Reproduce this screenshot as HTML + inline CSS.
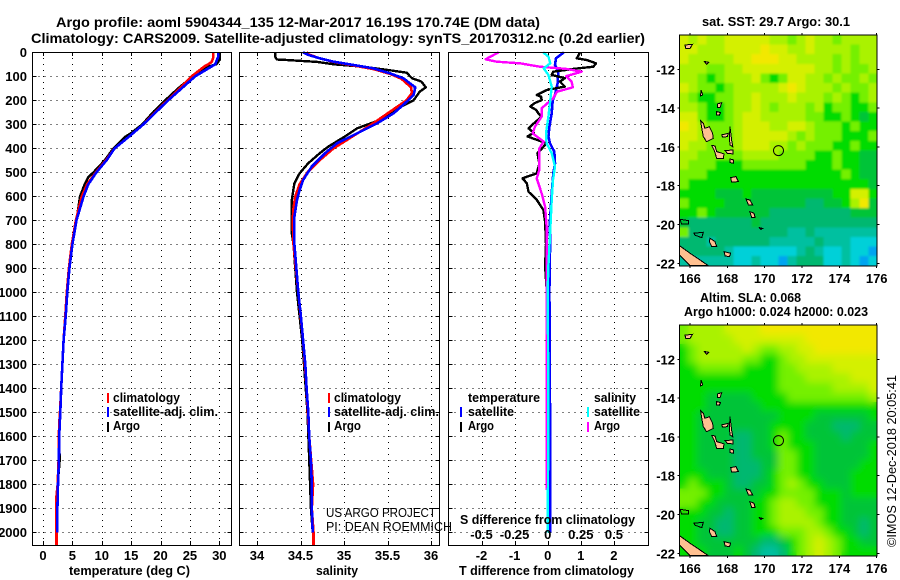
<!DOCTYPE html>
<html><head><meta charset="utf-8"><title>Argo profile</title>
<style>
html,body{margin:0;padding:0;background:#fff;width:900px;height:580px;overflow:hidden}
svg{display:block}
text{font-family:"Liberation Sans",sans-serif;font-weight:bold;fill:#000;font-size:13px}
.t{font-size:14px}
</style></head><body>
<svg id="chart" xmlns="http://www.w3.org/2000/svg" width="900" height="580" viewBox="0 0 900 580">
<defs>
<filter id="smooth" x="-5%" y="-5%" width="110%" height="110%"><feGaussianBlur stdDeviation="4"/></filter>
<filter id="soft" x="-5%" y="-5%" width="110%" height="110%"><feGaussianBlur stdDeviation="1"/></filter>
<clipPath id="map-clip-top"><rect x="679.3" y="35" width="197.6" height="230.9"/></clipPath>
<clipPath id="map-clip-bottom"><rect x="679.3" y="325" width="197.6" height="230.9"/></clipPath>
</defs>
<rect x="0" y="0" width="900" height="580" fill="#fff"/>
<g id="layer"></g>
<text class="t" x="56" y="27" textLength="484" lengthAdjust="spacingAndGlyphs">Argo profile: aoml 5904344_135 12-Mar-2017 16.19S 170.74E (DM data)</text>
<text class="t" x="31" y="43" textLength="614" lengthAdjust="spacingAndGlyphs">Climatology: CARS2009. Satellite-adjusted climatology: synTS_20170312.nc (0.2d earlier)</text>
<text x="69" y="575" textLength="121" lengthAdjust="spacingAndGlyphs">temperature (deg C)</text>
<text x="316" y="575" textLength="42" lengthAdjust="spacingAndGlyphs">salinity</text>
<text x="459" y="575" textLength="175" lengthAdjust="spacingAndGlyphs">T difference from climatology</text>
<text x="460" y="524" textLength="175" lengthAdjust="spacingAndGlyphs">S difference from climatology</text>
<text x="113" y="402" textLength="67" lengthAdjust="spacingAndGlyphs">climatology</text>
<text x="113" y="416" textLength="105" lengthAdjust="spacingAndGlyphs">satellite-adj. clim.</text>
<text x="113" y="430" textLength="27" lengthAdjust="spacingAndGlyphs">Argo</text>
<text x="334" y="402" textLength="67" lengthAdjust="spacingAndGlyphs">climatology</text>
<text x="334" y="416" textLength="105" lengthAdjust="spacingAndGlyphs">satellite-adj. clim.</text>
<text x="334" y="430" textLength="27" lengthAdjust="spacingAndGlyphs">Argo</text>
<text x="468" y="402" textLength="72" lengthAdjust="spacingAndGlyphs">temperature</text>
<text x="468" y="416" textLength="46" lengthAdjust="spacingAndGlyphs">satellite</text>
<text x="468" y="430" textLength="26" lengthAdjust="spacingAndGlyphs">Argo</text>
<text x="594" y="402" textLength="42" lengthAdjust="spacingAndGlyphs">salinity</text>
<text x="594" y="416" textLength="46" lengthAdjust="spacingAndGlyphs">satellite</text>
<text x="594" y="430" textLength="26" lengthAdjust="spacingAndGlyphs">Argo</text>
<text x="326" y="517" textLength="110" lengthAdjust="spacingAndGlyphs" style="font-weight:normal">US ARGO PROJECT</text>
<text x="326" y="531" textLength="126" lengthAdjust="spacingAndGlyphs" style="font-weight:normal">PI: DEAN ROEMMICH</text>
<text x="702" y="26" textLength="148" lengthAdjust="spacingAndGlyphs">sat. SST: 29.7 Argo: 30.1</text>
<text x="700" y="302" textLength="101" lengthAdjust="spacingAndGlyphs">Altim. SLA: 0.068</text>
<text x="684" y="316" textLength="184" lengthAdjust="spacingAndGlyphs">Argo h1000: 0.024 h2000: 0.023</text>
<text transform="translate(896,547) rotate(-90)" x="0" y="0" textLength="172" lengthAdjust="spacingAndGlyphs" style="font-weight:normal">©IMOS 12-Dec-2018 20:05:41</text>
</svg>
<script>
// ---------- profile data ----------
const depthTicks = [0,100,200,300,400,500,600,700,800,900,1000,1100,1200,1300,1400,1500,1600,1700,1800,1900,2000];
const tempTicks = [0,5,10,15,20,25,30];
const salTicks = [34,34.5,35,35.5,36];
const salTickLabels = ['34','34.5','35','35.5','36'];
const tDiffTicks = [-2,-1,0,1,2];
const sDiffTicks = [-0.5,-0.25,0,0.25,0.5];
const sDiffTickLabels = ['-0.5','-0.25','0','0.25','0.5'];

const tempClimDepth = [0,20,40,50,60,100,150,200,250,300,350,400,450,500,550,600,650,700,800,900,1000,1100,1200,1300,1400,1500,1550,1600,1700,1800,1850,1900,2000,2054];
const tempClimValue = [29,29,28.7,28.1,27.4,25.3,23.3,21.2,19.1,17.1,14.7,12.2,10.7,9,7.5,6.6,6.1,5.6,4.9,4.4,4.05,3.8,3.5,3.3,3.1,2.9,2.75,2.7,2.65,2.5,2.3,2.3,2.3,2.3];
const tempSatDepth = [0,20,50,100,150,200,250,300,350,400,450,500,550,600,650,700,800,900,1000,1100,1200,1300,1400,1500,1600,1700,1800,1900,2000];
const tempSatValue = [29.8,29.8,29.3,25.9,23.6,21.3,19.2,17.1,14.7,12.2,10.8,9.1,7.7,6.9,6.3,5.7,5,4.5,4.14,3.86,3.5,3.3,3.1,2.95,2.75,2.7,2.55,2.45,2.45];
const tempArgoDepth = [0,30,50,60,80,100,150,200,235,245,300,340,350,400,450,500,520,550,600,700,800,900,1000,1200,1400,1600,1700,1800,1900,2000];
const tempArgoValue = [30.1,30.1,29.5,28.1,26.7,25.5,23,20.8,19.4,18.9,16.9,14.8,14.1,12,10.5,8.6,7.7,7.1,6.3,5.7,5,4.5,4.1,3.5,3.1,2.75,2.85,2.5,2.35,2.35];

const salClimDepth = [0,10,25,40,55,70,90,110,146,170,200,250,300,350,400,450,500,550,600,650,700,800,1000,1200,1400,1600,1800,1900,2000,2054];
const salClimValue = [34.57,34.6,34.72,34.88,35.11,35.34,35.53,35.66,35.77,35.78,35.72,35.52,35.32,35.1,34.88,34.72,34.58,34.49,34.44,34.42,34.41,34.42,34.475,34.53,34.57,34.6,34.645,34.63,34.65,34.65];
const salSatDepth = [0,11,25,39,53,67,88,108,146,178,213,254,296,338,379,421,476,532,574,615,685,800,1000,1100,1200,1300,1400,1500,1600,1700,1800,1900,2000];
const salSatValue = [34.53,34.59,34.72,34.88,35.11,35.34,35.53,35.68,35.82,35.8,35.7,35.57,35.38,35.15,34.92,34.78,34.63,34.53,34.49,34.46,34.43,34.43,34.475,34.505,34.53,34.555,34.57,34.59,34.6,34.62,34.63,34.63,34.64];
const salArgoDepth = [0,20,30,32,40,50,60,75,85,108,122,146,164,200,226,254,282,317,351,393,421,462,504,546,615,754,800,1000,1200,1500,1800,1900,2000];
const salArgoValue = [34.21,34.21,34.23,34.34,34.69,34.88,35.22,35.53,35.72,35.78,35.89,35.94,35.87,35.8,35.66,35.53,35.41,35.15,35.01,34.82,34.72,34.59,34.49,34.43,34.4,34.4,34.42,34.46,34.52,34.58,34.61,34.62,34.64];

const diffTSatDepth = [0,25,53,81,129,178,199,254,310,351,379,414,463,504,588,699,824,990,1500,2000];
const diffTSatValue = [0.49,0.25,0.22,0.32,0.3,0.22,0.15,0.12,0.05,0.02,0.07,0.2,0.22,0.17,0.12,0.07,0.07,0.05,0.07,0.07];
const diffTArgoDepth = [0,25,32,46,60,69,81,94,108,122,143,157,178,185,199,212,226,240,254,268,282,300,317,335,351,379,421,463,504,525,546,581,615,657,706,800,890,990,1200,1500];
const diffTArgoValue = [0.98,0.88,1.18,1.46,1.38,0.78,0.17,0.12,0.52,0.37,0.52,-0.03,-0.33,-0.2,-0.18,-0.4,-0.53,-0.35,-0.28,-0.2,-0.3,-0.45,-0.58,-0.42,-0.61,-0.03,-0.31,-0.25,-0.33,-0.76,-0.63,-0.58,-0.33,-0.13,-0.08,-0.05,-0.08,-0.03,0,0];
const diffSSatDepth = [0,18,46,67,94,143,199,268,338,379,421,476,532,615,754,890,990,1500,2000];
const diffSSatValue = [-0.035,0.005,0.02,-0.03,0.005,0.03,0.02,0.005,-0.013,-0.008,0.03,0.055,0.04,0.03,0.018,0.005,0,0.005,0];
const diffSArgoDepth = [0,29,39,46,60,69,81,99,122,146,164,192,233,268,310,338,372,400,448,490,525,588,643,725,808,1823];
const diffSArgoValue = [-0.37,-0.47,-0.385,-0.21,-0.06,0.14,0.257,0.14,0.18,0.19,0.07,0.04,-0.045,-0.045,-0.096,-0.113,-0.03,-0.063,-0.063,-0.063,-0.083,-0.045,-0.02,-0.008,-0.008,-0.008];

// ---------- map data (colour level per coarse cell, top row = north) ----------
const lonTicks = [166,168,170,172,174,176];
const latTicks = [-12,-14,-16,-18,-20,-22];
const levelColors = ['#00a4f0','#00d0d8','#00c0a0','#00b870','#00c438','#00dc00','#74f000','#aaf200','#d4f000','#f2e800'];
const sstLevels = [
[8,7,8,7,7,8,8,8,8,8,7,7,6,7,8,7,7,6,7,7,7,7],
[8,8,7,7,7,8,8,8,8,9,8,8,7,7,8,7,7,7,7,6,7,7],
[8,7,7,7,7,7,8,8,9,9,9,8,8,7,7,7,7,6,7,6,7,7],
[7,7,7,6,6,7,7,8,8,8,8,8,8,8,8,7,7,6,7,6,6,7],
[7,7,6,5,6,7,7,7,8,6,5,6,8,8,7,7,6,7,6,6,7,6],
[8,7,6,6,5,6,7,7,7,7,7,8,9,8,7,7,7,6,7,6,6,7],
[7,6,5,5,6,6,7,7,8,7,7,7,8,7,7,7,6,7,6,5,6,7],
[7,7,6,5,5,6,7,7,8,7,6,7,7,7,6,7,5,6,6,5,5,6],
[8,8,6,5,5,6,7,8,8,7,7,7,7,7,6,6,5,5,6,5,4,5],
[9,8,7,6,6,6,7,8,8,8,7,7,8,8,7,6,6,6,5,6,5,5],
[8,8,7,6,6,6,7,8,8,8,8,8,7,6,7,6,6,6,5,5,5,6],
[8,7,7,6,6,6,7,8,8,8,7,7,6,7,6,6,6,5,5,6,5,5],
[7,7,6,6,6,6,6,7,7,7,7,6,6,6,6,5,5,6,5,5,4,4],
[7,6,6,6,5,5,5,6,6,6,6,6,6,6,5,5,5,6,5,5,4,4],
[6,6,6,5,5,5,5,5,5,5,5,5,5,5,5,5,5,5,6,5,4,4],
[6,5,5,5,5,5,5,5,5,5,5,5,5,5,5,5,5,5,5,5,5,4],
[5,5,5,5,4,4,4,5,4,4,4,4,4,4,4,4,4,5,5,8,8,5],
[6,5,5,5,5,4,4,4,4,4,4,4,4,4,3,3,4,4,5,7,9,4],
[5,5,6,5,4,4,4,4,4,4,3,3,3,3,3,3,3,3,3,4,4,4],
[4,3,3,3,3,3,3,3,4,3,3,3,3,3,3,3,3,3,3,3,3,3],
[6,3,3,3,3,3,3,3,3,3,3,3,2,2,3,2,2,2,2,2,2,2],
[3,3,3,2,3,3,3,3,3,3,2,2,2,2,2,3,2,2,2,1,1,1],
[3,3,3,3,3,2,1,1,1,1,1,1,1,2,3,2,1,1,2,1,1,0],
[2,2,2,2,2,2,1,1,2,1,1,0,2,3,3,3,1,1,2,1,0,1]
];
const slaLevels = [
[6,7,7,7,7,8,8,8,8,9,9,9,9,9,9,9,9,9,9,9,9,9],
[6,7,7,7,7,7,8,8,8,8,8,8,8,8,9,9,9,9,9,9,9,9],
[5,6,7,7,7,7,7,8,7,6,6,7,7,8,8,9,9,9,9,9,9,9],
[5,6,7,7,7,7,7,6,6,5,5,6,7,7,8,8,8,8,8,8,8,8],
[5,5,6,6,6,6,6,5,5,5,5,6,6,7,7,7,7,8,8,8,8,8],
[5,5,5,5,5,5,5,5,5,5,5,6,6,6,7,7,7,7,7,8,8,8],
[5,5,5,5,5,5,5,5,5,5,5,6,6,6,6,6,6,7,7,7,7,8],
[5,5,5,4,4,4,4,4,5,5,5,5,6,6,6,6,6,6,6,6,6,7],
[5,5,5,4,4,4,4,4,4,5,5,5,5,5,5,5,5,5,5,5,5,5],
[5,5,4,4,4,4,4,4,4,4,4,5,5,5,5,4,4,4,4,4,4,5],
[5,5,4,4,4,4,4,4,4,4,5,5,5,5,4,4,4,3,3,3,4,4],
[5,5,4,4,4,4,3,3,4,4,5,6,5,5,4,4,4,4,3,4,4,4],
[5,5,4,4,4,4,3,3,4,4,5,6,5,5,5,4,4,4,4,4,4,5],
[5,5,4,4,4,4,3,3,4,4,4,6,6,5,5,4,4,4,4,4,4,5],
[5,5,4,4,4,4,3,3,3,4,4,6,6,5,5,4,4,4,4,4,5,5],
[5,5,5,4,4,4,3,3,3,4,5,6,6,5,5,4,4,4,4,5,5,5],
[5,6,5,5,5,4,3,3,4,4,5,6,7,6,5,5,4,4,4,5,5,5],
[6,6,6,5,5,4,4,4,4,5,5,6,6,6,6,5,5,5,4,5,5,5],
[6,6,5,5,4,4,4,4,5,5,6,7,7,6,6,5,5,5,4,4,4,4],
[5,5,5,4,4,3,4,4,5,5,6,7,7,7,6,6,5,5,4,4,4,4],
[5,5,4,4,3,3,4,4,5,5,6,7,7,7,7,6,5,5,4,4,3,4],
[5,5,4,4,3,3,4,4,5,5,5,6,6,6,7,7,6,5,5,4,3,4],
[5,5,4,4,4,4,4,4,4,3,3,4,5,6,7,8,7,6,5,5,4,4],
[5,5,5,4,4,4,5,4,3,2,2,3,5,6,7,8,7,6,5,5,5,5]
];
// lon,lat outline pairs of the coastlines
const islands = [
[166.57,-14.65,166.71,-14.78,166.8,-15.04,167.04,-14.96,167.21,-15.3,167.25,-15.56,166.89,-15.73,166.71,-15.47,166.63,-15.04],
[167.16,-15.93,167.34,-15.95,167.43,-16.24,167.82,-16.36,167.79,-16.59,167.43,-16.59,167.3,-16.19],
[168.18,-17.58,168.46,-17.53,168.59,-17.79,168.23,-17.82],
[169,-18.68,169.21,-18.74,169.36,-18.99,169.13,-18.99],
[169.21,-19.34,169.43,-19.42,169.48,-19.63,169.3,-19.63],
[165.43,-21.09,166,-21.48,166.98,-22.12,166,-22.12,165.43,-21.57],
[167.07,-20.71,167.34,-20.88,167.43,-21.14,167.16,-21.14,167.04,-20.88],
[167.82,-21.4,168.18,-21.48,168.11,-21.66,167.88,-21.62],
[167.7,-15.38,168.05,-15.3,168,-15.47,167.75,-15.5],
[168.14,-14.96,168.23,-15.64,168.29,-15.99,168.14,-15.9,168.11,-15.55],
[167.88,-16.19,168.29,-16.16,168.29,-16.36,168,-16.33],
[168.14,-16.62,168.32,-16.67,168.32,-16.84,168.14,-16.81],
[167.43,-14.18,167.64,-14.23,167.57,-14.37,167.43,-14.35],
[167.46,-13.79,167.7,-13.72,167.61,-13.96,167.46,-13.96],
[165.73,-10.75,166.14,-10.71,166,-10.92,165.77,-10.92],
[166.77,-11.6,167,-11.64,166.89,-11.74],
[166.59,-13.07,166.68,-13.32,166.57,-13.37],
[169.71,-20.16,169.89,-20.2,169.79,-20.26]
];
const islandOutlines = [
[165.46,-19.73,165.91,-19.8,165.91,-19.97,165.55,-19.97],
[166.21,-20.45,166.71,-20.4,166.63,-20.68,166.27,-20.55]
];
const argoLon = 170.74;
const argoLat = -16.19;

// ---------- drawing ----------
const NS = 'http://www.w3.org/2000/svg';
const layer = document.getElementById('layer');
function mk(tag, attrs, name, parent) {
  const el = document.createElementNS(NS, tag);
  for (const k in attrs) el.setAttribute(k, attrs[k]);
  
  
  (parent || layer).appendChild(el);
  return el;
}
function label(x, y, str, anchor, name) {
  const el = mk('text', {x: x, y: y, 'text-anchor': anchor}, name);
  el.textContent = str;
  return el;
}
function hline(x1, x2, y, dash, name) {
  const a = {x1: x1, x2: x2, y1: y, y2: y, stroke: '#000', 'stroke-width': 1, 'shape-rendering': 'crispEdges'};
  if (dash) a['stroke-dasharray'] = dash;
  mk('line', a, name);
}
function vline(x, y1, y2, dash, name) {
  const a = {x1: x, x2: x, y1: y1, y2: y2, stroke: '#000', 'stroke-width': 1, 'shape-rendering': 'crispEdges'};
  if (dash) a['stroke-dasharray'] = dash;
  mk('line', a, name);
}
const plotTop = 52, plotBottom = 545;
const yDepth = d => 52.3 + d * 0.24;
const xTemp = v => 43 + v * 5.877;
const xSal = v => 257 + (v - 34) * 87;
const xTDiff = v => 547.7 + v * 33.1;
const xSDiff = v => 547.7 + v * 132.4;

function series(xf, depths, values, color, width, name) {
  const pts = depths.map((d, i) => xf(values[i]).toFixed(1) + ',' + yDepth(d).toFixed(1)).join(' ');
  mk('polyline', {points: pts, fill: 'none', stroke: color, 'stroke-width': width, 'shape-rendering': 'crispEdges', 'stroke-linejoin': 'round'}, name);
}
function panel(left, right, ticks, xf, prefix) {
  depthTicks.forEach(d => {
    const y = Math.round(yDepth(d)) + 0.5;
    hline(left, right, y, '1 5', prefix + '-depth-gridline');
    hline(left, left + 4, y, null, prefix + '-left-tick');
    hline(right - 4, right, y, null, prefix + '-right-tick');
  });
  ticks.forEach(t => {
    const x = Math.round(xf(t)) + 0.5;
    vline(x, plotTop, plotBottom, '1 5', prefix + '-x-gridline');
    vline(x, plotTop, plotTop + 4, null, prefix + '-top-tick');
    vline(x, plotBottom - 4, plotBottom, null, prefix + '-bottom-tick');
  });
}
function frame(left, right, prefix) {
  mk('rect', {x: left, y: plotTop + 0.5, width: right - left, height: plotBottom - plotTop, fill: 'none', stroke: '#000', 'stroke-width': 1, 'shape-rendering': 'crispEdges'}, prefix + '-frame');
}
const p1 = [32.5, 231.5], p2 = [239.5, 439.5], p3 = [448.5, 648.5];
panel(p1[0], p1[1], tempTicks, xTemp, 'temperature');
panel(p2[0], p2[1], salTicks, xSal, 'salinity');
panel(p3[0], p3[1], tDiffTicks, xTDiff, 'difference');

series(xTemp, tempArgoDepth, tempArgoValue, '#000', 2.4, 'temperature-argo-line');
series(xTemp, tempClimDepth, tempClimValue, '#f00', 2.6, 'temperature-climatology-line');
series(xTemp, tempSatDepth, tempSatValue, '#00f', 2.6, 'temperature-satellite-line');
series(xSal, salArgoDepth, salArgoValue, '#000', 2.4, 'salinity-argo-line');
series(xSal, salClimDepth, salClimValue, '#f00', 2.6, 'salinity-climatology-line');
series(xSal, salSatDepth, salSatValue, '#00f', 2.6, 'salinity-satellite-line');
series(xTDiff, diffTSatDepth, diffTSatValue, '#00f', 2.6, 'difference-t-satellite-line');
series(xTDiff, diffTArgoDepth, diffTArgoValue, '#000', 2.4, 'difference-t-argo-line');
series(xSDiff, diffSArgoDepth, diffSArgoValue, '#f0f', 2.4, 'difference-s-argo-line');
series(xSDiff, diffSSatDepth, diffSSatValue, '#0ff', 2.4, 'difference-s-satellite-line');

frame(p1[0], p1[1], 'temperature');
frame(p2[0], p2[1], 'salinity');
frame(p3[0], p3[1], 'difference');

depthTicks.forEach(d => label(27, yDepth(d) + 4.5, String(d), 'end', 'depth-tick-label'));
tempTicks.forEach(t => label(xTemp(t), 560, String(t), 'middle', 'temperature-tick-label'));
salTicks.forEach((t, i) => label(xSal(t), 560, salTickLabels[i], 'middle', 'salinity-tick-label'));
tDiffTicks.forEach(t => label(xTDiff(t), 560, String(t), 'middle', 't-difference-tick-label'));
sDiffTicks.forEach((t, i) => label(xSDiff(t), 539, sDiffTickLabels[i], 'middle', 's-difference-tick-label'));

// legend swatches
function swatch(x, y, color, name) {
  mk('rect', {x: x, y: y, width: 2, height: 10, fill: color, 'shape-rendering': 'crispEdges'}, name);
}
swatch(107, 393, '#f00', 'legend-swatch-climatology');
swatch(107, 407, '#00f', 'legend-swatch-satellite');
swatch(107, 422, '#000', 'legend-swatch-argo');
swatch(328, 393, '#f00', 'legend-swatch-climatology-salinity');
swatch(328, 407, '#00f', 'legend-swatch-satellite-salinity');
swatch(328, 422, '#000', 'legend-swatch-argo-salinity');
swatch(460, 407, '#00f', 'legend-swatch-t-satellite');
swatch(460, 422, '#000', 'legend-swatch-t-argo');
swatch(587, 407, '#0ff', 'legend-swatch-s-satellite');
swatch(587, 422, '#f0f', 'legend-swatch-s-argo');

// maps
const xLon = v => 690 + (v - 166) * 18.67;
const lonMin = 165.45, lonMax = 176.03, latMax = -10.23, latMin = -22.13;
function map(levels, top, prefix, clipId, filterId) {
  const yLat = v => top + 34.3 + (-12 - v) * 19.4;
  const rows = levels.length, cols = levels[0].length;
  const dLon = (lonMax - lonMin) / cols, dLat = (latMax - latMin) / rows;
  const clipGroup = mk('g', {'clip-path': 'url(#' + clipId + ')'}, prefix + '-field');
  const base = mk('g', {}, prefix + '-base-cells', clipGroup);
  const smooth = mk('g', {filter: 'url(#' + filterId + ')'}, prefix + '-cells', clipGroup);
  levels.forEach((row, r) => row.forEach((lev, c) => {
    const x0 = xLon(lonMin + c * dLon), x1 = xLon(lonMin + (c + 1) * dLon);
    const y0 = yLat(latMax - r * dLat), y1 = yLat(latMax - (r + 1) * dLat);
    const attrs = {x: x0.toFixed(1), y: y0.toFixed(1), width: (x1 - x0).toFixed(1), height: (y1 - y0).toFixed(1), fill: levelColors[lev], 'shape-rendering': 'crispEdges'};
    mk('rect', attrs, prefix + '-base-cell', base);
    mk('rect', attrs, prefix + '-cell', smooth);
  }));
  const poly = (arr, fill, name) => {
    const pts = [];
    for (let i = 0; i < arr.length; i += 2) pts.push(xLon(arr[i]).toFixed(1) + ',' + yLat(arr[i + 1]).toFixed(1));
    mk('polygon', {points: pts.join(' '), fill: fill, stroke: '#000', 'stroke-width': 1, 'shape-rendering': 'crispEdges'}, name);
  };
  islands.forEach(a => poly(a, '#ffc090', prefix + '-island'));
  islandOutlines.forEach(a => poly(a, 'none', prefix + '-island-outline'));
  mk('circle', {cx: xLon(argoLon), cy: yLat(argoLat), r: 5, fill: 'none', stroke: '#000', 'stroke-width': 1}, prefix + '-argo-position');
  const l = xLon(lonMin), r = xLon(lonMax), t = yLat(latMax), b = yLat(latMin);
  mk('rect', {x: l.toFixed(1), y: t.toFixed(1), width: (r - l).toFixed(1), height: (b - t).toFixed(1), fill: 'none', stroke: '#000', 'stroke-width': 1, 'shape-rendering': 'crispEdges'}, prefix + '-frame');
  lonTicks.forEach(v => {
    vline(xLon(v), t - 2, t, null, prefix + '-top-tick');
    vline(xLon(v), b, b + 2, null, prefix + '-bottom-tick');
    label(xLon(v), top + 248, String(v), 'middle', prefix + '-lon-label');
  });
  latTicks.forEach(v => {
    hline(l - 2, l, yLat(v), null, prefix + '-left-tick');
    hline(r, r + 2, yLat(v), null, prefix + '-right-tick');
    label(675, yLat(v) + 5, String(v), 'end', prefix + '-lat-label');
  });
}
map(sstLevels, 35, 'sst-map', 'map-clip-top', 'soft');
map(slaLevels, 325, 'sla-map', 'map-clip-bottom', 'smooth');
</script>
</body></html>
